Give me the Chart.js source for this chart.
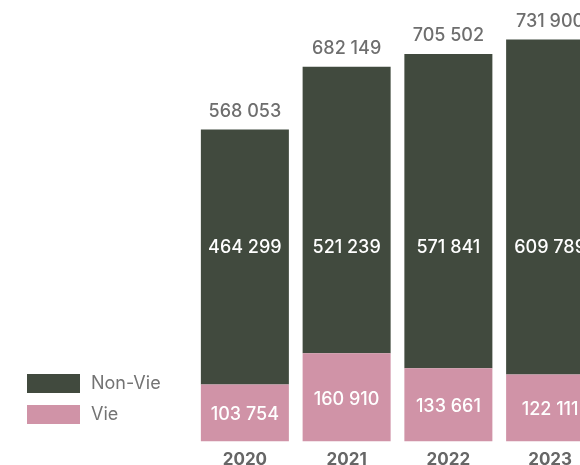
<!DOCTYPE html>
<html>
<head>
<meta charset="utf-8">
<script src="https://cdn.jsdelivr.net/npm/chart.js@4/dist/chart.umd.min.js"></script>
<style>
  html, body { margin: 0; padding: 0; background: #ffffff; overflow: hidden; }
  #wrap { width: 580px; height: 465px; overflow: hidden; position: relative; }
  #box { width: 601px; height: 478px; position: absolute; left: 0; top: 0; }
</style>
</head>
<body>
<div id="wrap"><div id="box"><canvas id="chart"></canvas></div></div>
<script>
const years = ['2020', '2021', '2022', '2023'];
const vieValues = [103754, 160910, 133661, 122111];
const nonVieValues = [464299, 521239, 571841, 609789];
const totalValues = [568053, 682149, 705502, 731900];

const colors = {
    nonVie: '#414a3e',
    vie:    '#d093a7',
    text:   '#6e6e6e',
    axis:   '#666666',
    white:  '#ffffff'
};

const fontFamily = 'Inter, "Open Sans", sans-serif';

function fmt(v) {
    return String(v).replace(/\B(?=(\d{3})+(?!\d))/g, ' ');
}

// value labels inside and above the bars, plus the legend on the left
const labelsPlugin = {
    id: 'labels',
    afterDatasetsDraw(chart) {
        const ctx = chart.ctx;
        const yScale = chart.scales.y;
        const vieMeta = chart.getDatasetMeta(0);
        const nonMeta = chart.getDatasetMeta(1);
        ctx.save();
        ctx.font = '500 18px ' + fontFamily;
        ctx.textAlign = 'center';
        ctx.textBaseline = 'middle';

        // non-vie labels all on one line
        const nonLineY = yScale.getPixelForValue(353000);

        for (let i = 0; i < years.length; i++) {
            const vieBar = vieMeta.data[i];
            const nonBar = nonMeta.data[i];

            ctx.fillStyle = colors.white;
            ctx.fillText(fmt(vieValues[i]), vieBar.x, (vieBar.y + vieBar.base) / 2 + 2);
            ctx.fillText(fmt(nonVieValues[i]), nonBar.x, nonLineY);

            ctx.fillStyle = colors.text;
            ctx.fillText(fmt(totalValues[i]), nonBar.x, yScale.getPixelForValue(totalValues[i]) - 18);
        }

        // legend
        ctx.font = '400 18px ' + fontFamily;
        ctx.textAlign = 'left';
        const items = [
            { label: chart.data.datasets[1].label, color: chart.data.datasets[1].backgroundColor, y: 374 },
            { label: chart.data.datasets[0].label, color: chart.data.datasets[0].backgroundColor, y: 405 }
        ];
        items.forEach(function (item) {
            ctx.fillStyle = item.color;
            ctx.fillRect(27, item.y, 53, 19);
            ctx.fillStyle = '#737373';
            ctx.fillText(item.label, 91, item.y + 10);
        });

        ctx.restore();
    }
};

new Chart(document.getElementById('chart'), {
    type: 'bar',
    data: {
        labels: years,
        datasets: [
            {
                label: 'Vie',
                data: vieValues,
                backgroundColor: colors.vie,
                borderWidth: 0,
                barPercentage: 0.865,
                categoryPercentage: 1
            },
            {
                label: 'Non-Vie',
                data: nonVieValues,
                backgroundColor: colors.nonVie,
                borderWidth: 0,
                barPercentage: 0.865,
                categoryPercentage: 1
            }
        ]
    },
    options: {
        responsive: true,
        maintainAspectRatio: false,
        animation: false,
        layout: {
            padding: { left: 194, right: 0, top: 2, bottom: 0 }
        },
        plugins: {
            legend: { display: false },
            tooltip: { enabled: false }
        },
        scales: {
            x: {
                stacked: true,
                grid: { display: false, drawTicks: false },
                border: { display: false },
                ticks: {
                    color: colors.axis,
                    padding: 8,
                    font: { family: fontFamily, size: 17, weight: 'bold' }
                }
            },
            y: {
                stacked: true,
                display: false,
                min: 0,
                max: 800000
            }
        }
    },
    plugins: [labelsPlugin]
});
</script>
</body>
</html>
